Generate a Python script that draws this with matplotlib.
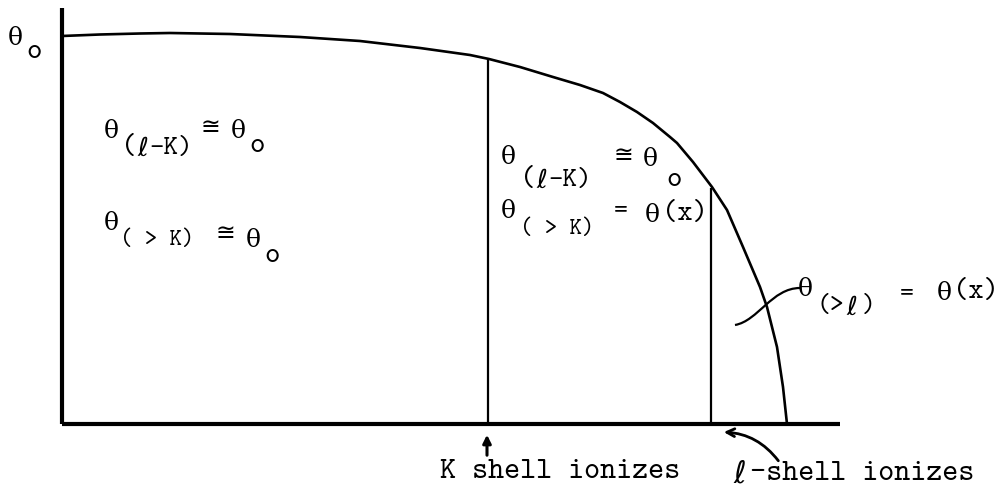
import matplotlib
matplotlib.use("Agg")
import matplotlib.pyplot as plt
from matplotlib.path import Path
from matplotlib.patches import PathPatch

# ---- data (pixel-like coordinates, y grows downward) ----
curve_x = [62, 100, 140, 170, 230, 300, 360, 420, 470, 489, 520, 553, 580, 603, 620, 637,
           653, 670, 677, 693, 712, 727, 743, 760, 767, 777, 783, 787]
curve_y = [36, 34.5, 33.5, 33, 34, 37, 41, 48, 55, 59, 67, 77, 85, 93, 102, 112,
           123, 137, 143, 162, 187, 210, 247, 287, 307, 347, 387, 424]

origin = (62, 424)
y_axis_top = 8
x_axis_right = 840

k_shell_x = 488
k_shell_top = 59
l_shell_x = 711
l_shell_top = 188

bottom_labels = ["K shell ionizes", "\u2113-shell ionizes"]

# ---- figure ----
W, H = 998, 491
fig = plt.figure(figsize=(W / 100, H / 100), dpi=100)
ax = fig.add_axes([0, 0, 1, 1])
ax.set_xlim(0, W)
ax.set_ylim(H, 0)
ax.axis("off")

TT = ["cmtt10", "DejaVu Serif", "DejaVu Sans"]
SER = ["DejaVu Serif", "DejaVu Sans"]

# axes
ax.plot([origin[0], origin[0]], [y_axis_top, origin[1]], color="black", lw=3.0, solid_capstyle="butt")
ax.plot([origin[0], x_axis_right], [origin[1], origin[1]], color="black", lw=3.0, solid_capstyle="butt")

# curve
ax.plot(curve_x, curve_y, color="black", lw=1.9, solid_joinstyle="round")

# vertical lines
ax.vlines([k_shell_x, l_shell_x], [k_shell_top, l_shell_top], [origin[1], origin[1]], color="black", lw=1.6)

def t(s, x, y, size=21, fam=TT):
    ax.text(x, y, s, ha="left", va="center", fontsize=size, family=fam, color="black")

def th(x, y, size=18):
    t("\u03b8", x, y, size, SER)

# axis label theta_o
th(8, 38)
t("o", 26, 52, 21)

# left region
th(104, 131)
t("(", 121, 148, 21)
t("\u2113", 137, 148, 19, SER)
t("-K)", 150, 148, 20)
t("\u2245", 201, 127, 17, SER)
th(231, 131)
t("o", 249, 147, 21)

th(104, 224)
t("( > K)", 120, 240, 17)
t("\u2245", 216, 233, 17, SER)
th(246, 240)
t("o", 264, 256, 21)

# middle region
th(501, 158)
t("(", 520, 180, 21)
t("\u2113", 536, 180, 19, SER)
t("-K)", 549, 180, 20)
t("\u2245", 614, 155, 17, SER)
th(643, 160)
t("o", 666, 181, 21)

th(501, 211)
t("( > K)", 520, 230, 17)
t("=", 614, 212, 19)
th(645, 215)
t("(x)", 662, 215, 21)

# right label
th(798, 290)
t("(>", 817, 307, 19)
t("\u2113", 846, 307, 19, SER)
t(")", 862, 307, 19)
t("=", 900, 295, 19)
th(937, 293)
t("(x)", 953, 293, 21)

# leader curve for right label
leader = Path([(735, 325), (758, 321), (772, 288), (800, 288)],
              [Path.MOVETO, Path.CURVE4, Path.CURVE4, Path.CURVE4])
ax.add_patch(PathPatch(leader, fill=False, lw=1.6, color="black"))

# bottom labels
t(bottom_labels[0], 440, 472, 22)
t("\u2113", 733, 474, 22, SER)
t(bottom_labels[1][1:], 750, 474, 22)

# arrows
ax.annotate("", xy=(k_shell_x - 1, 432), xytext=(k_shell_x - 1, 458),
            arrowprops=dict(arrowstyle="-|>", lw=2.2, color="black", mutation_scale=12))
ax.annotate("", xy=(721, 432), xytext=(780, 463),
            arrowprops=dict(arrowstyle="->", lw=2.0, color="black", mutation_scale=14,
                            connectionstyle="arc3,rad=0.25"))

fig.savefig("out.png", dpi=100)
